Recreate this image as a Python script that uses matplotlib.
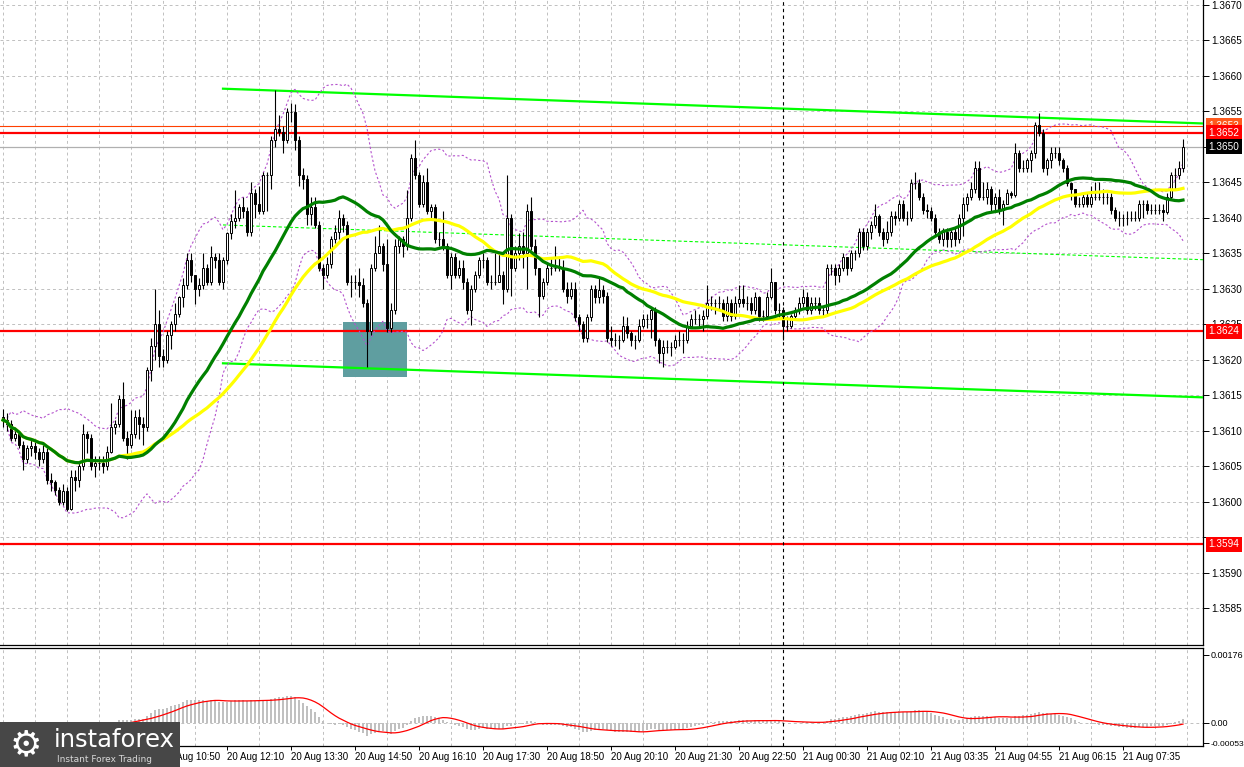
import numpy as np
import pandas as pd
import matplotlib
matplotlib.use("Agg")
import matplotlib.pyplot as plt
from matplotlib.patches import Rectangle

plt.rcParams["font.family"] = ["Liberation Sans", "DejaVu Sans"]

# --- data (pips above 1.3600, 5-minute bars) ---
first_open_pips = 12.0
close_pips = [
    11.5, 11, 9, 9.5, 8, 6, 7.5, 7.8, 7, 6,
    7, 3, 2.8, 1.7, 0, 1.5, -1, 3.5, 3, 5,
    9.5, 9, 5, 5.5, 5.5, 5, 7, 10.5, 10.9, 14.5,
    9, 8, 9.5, 12, 10.9, 10.5, 18.5, 22, 25, 20.5,
    20, 23.5, 25, 26.5, 28.8, 30.5, 34, 31.9, 30, 30.5,
    33, 31, 34.5, 34, 31, 34, 37.8, 39.5, 40, 41.5,
    41, 38, 43.5, 42, 41, 46, 46, 51, 52.5, 52.1,
    51, 54.9, 54.9, 51, 46, 45.5, 40.5, 41.5, 39, 33,
    32, 33.5, 37, 38, 40, 39, 31, 30.9, 30.9, 30.5,
    28, 24, 33, 35, 36, 33.5, 24.5, 27, 36, 37,
    36, 40, 48.5, 46, 42, 45, 41, 41.5, 37, 37,
    36, 32, 34.5, 32, 33, 31, 27, 30, 31.9, 34,
    34, 31, 31, 31, 32, 30, 40, 33, 35, 36,
    35, 41, 36, 33, 29, 30.9, 33, 33, 33, 33,
    30, 29, 30, 26, 25, 23, 26, 30, 28.9, 29.8,
    29, 23, 22.8, 22.8, 22.8, 24.8, 23.8, 22.8, 22.8, 24.8,
    25.8, 25.8, 27, 22.8, 20.9, 21.8, 21.8, 21.8, 22.8, 22.8,
    22.8, 24.8, 25.8, 25.8, 25.8, 26.1, 28, 28, 28, 28,
    26.1, 28, 26.1, 28, 28.5, 28, 28, 27, 28.9, 26.1,
    26.1, 28.9, 31, 27, 27, 24.8, 24.8, 26.1, 27, 28,
    28.9, 27, 28, 28, 27, 27, 32.9, 32.9, 31.9, 32.9,
    34.5, 32.9, 35, 35, 38, 36, 38, 39, 40.2, 38,
    37, 38, 40.2, 40, 42, 40, 40, 44.9, 44.9, 43,
    41.1, 41, 40, 38, 37, 38, 37, 38, 37, 40,
    42, 43, 44, 47, 43, 43, 44, 42, 43, 41.1,
    42, 43.5, 43.2, 49.1, 47, 47, 48.1, 49.1, 53.1, 52,
    47, 48.1, 49.1, 49.1, 48.1, 47, 44.9, 44, 42, 42,
    43, 42, 43, 43, 43, 43, 43, 41.1, 40, 40,
    40, 40, 40, 40, 42, 42, 41.1, 41.1, 41.1, 41.1,
    40.8, 43, 46, 46, 47, 50,
]
high_pips = [
    13, 12.5, 11.5, 10.5, 10, 8.5, 8, 9, 8.5, 7.5,
    8, 7.5, 4, 3, 2, 2.5, 2, 4.5, 4.5, 5.5,
    11, 10, 9.5, 6.5, 6.5, 6.5, 7.8, 13.9, 11.5, 15,
    16.8, 10, 12.9, 12.9, 13, 12, 19, 23, 30, 27,
    21.5, 24, 25.5, 28, 29, 31.5, 35, 35, 32, 31.5,
    35, 33.5, 36, 35, 35, 34.5, 38, 40.5, 43.9, 42,
    43, 41.5, 45, 44, 44.5, 46.5, 46.5, 51.5, 58, 54.5,
    53, 55.5, 56.2, 56, 51.5, 47, 46, 43, 43, 39.5,
    33.5, 34.5, 37.5, 39, 41.1, 40.5, 39.5, 32, 31.9, 33,
    31.5, 28.5, 33.5, 37.5, 39, 36.5, 37, 28, 37, 37.5,
    37.5, 43.9, 49, 51, 46.5, 46, 47, 42, 42, 38,
    41, 36.5, 35, 35, 34, 34, 31.5, 30.5, 32.5, 34.5,
    35, 34.5, 32, 35, 35, 32.5, 46, 40.5, 36, 37.9,
    38, 42, 43, 37, 33, 31.5, 33.5, 34.5, 36, 34.5,
    34, 31, 31, 31, 26.5, 25.5, 26.5, 30.5, 30.5, 31.7,
    30.5, 29.5, 24.8, 23.8, 23.5, 26.1, 26, 24, 23.5, 25.8,
    26.5, 26.5, 27.5, 27.5, 23, 22.8, 22.8, 22.5, 23.5, 24,
    23.8, 25.5, 26.5, 27, 26.5, 27, 30.5, 29, 28.5, 29,
    28.5, 29, 28.5, 29, 30.5, 30.5, 29, 28.9, 29.5, 29,
    27, 29.5, 33, 31, 28, 27.5, 26.1, 26.5, 27.5, 28.9,
    30, 29.5, 28.9, 28.9, 28.9, 27.5, 33.5, 33.5, 33.5, 33.5,
    35, 34.5, 35.5, 35.5, 38.5, 38.5, 38.5, 39.5, 42, 40.5,
    38.5, 39.5, 41, 41, 42.5, 42.5, 41, 45.5, 46.5, 45.5,
    43.5, 42, 41.5, 40.5, 38.5, 38.5, 38.5, 38.5, 38.5, 40.5,
    43, 43.5, 45, 48, 48, 45, 45, 44.5, 43.5, 44,
    42.5, 44, 43.8, 50.5, 49.5, 48.1, 48.5, 49.5, 53.5, 54.8,
    52.5, 48.5, 50, 50, 50, 48.5, 47.5, 45, 44, 43,
    43.5, 43.5, 44.5, 45, 45, 44, 43.5, 43.5, 41.5, 41,
    40.5, 41, 41, 41, 42.5, 42.5, 42.5, 42, 42, 42,
    42, 43.5, 46.5, 47, 48, 51.1,
]
low_pips = [
    10.5, 10, 8.5, 8.5, 7.5, 4.5, 5.5, 6.5, 6, 5,
    5.5, 2.5, 1.5, 1, -0.5, -0.5, -1.3, -1.2, 1.5, 2,
    4.5, 6.8, 4.5, 3.5, 4.5, 4, 4.5, 6.8, 9.5, 10.5,
    8.5, 6, 7.5, 9, 8.8, 8, 10, 17, 20, 19,
    19, 19.5, 21.5, 24, 26, 27.5, 30, 31, 27.9, 29,
    30, 30.5, 30.5, 33, 30.5, 30, 33.5, 37, 38.5, 39.5,
    40, 37.5, 37.5, 40, 40.5, 40.5, 41, 44, 50, 51.5,
    49.1, 50.5, 53.5, 49.5, 44.5, 44, 39, 39, 38.5, 32.5,
    30, 31.5, 33, 36.5, 37, 38, 30.5, 28.9, 30, 28.9,
    27.5, 19, 23.5, 32.5, 35, 32.5, 23.9, 23.9, 26.5, 35,
    34.5, 35.5, 39.5, 45.5, 41.5, 41.5, 40.5, 40, 36.5, 36,
    35.5, 31.5, 30, 31.5, 31.5, 30, 26.5, 24.9, 29.5, 31.5,
    33, 30.5, 30, 30.5, 31, 27.9, 29.5, 29, 32.5, 34,
    33, 30, 35.5, 32, 26, 28.5, 30.5, 32, 32.5, 32.5,
    29.5, 28, 28.5, 25.5, 24, 22.5, 22.5, 25.5, 28, 28,
    28, 22.5, 22, 22, 21.5, 22.5, 23, 22, 21.5, 22.5,
    24.5, 24.5, 23, 22, 19.5, 19, 21, 20.5, 21.5, 22,
    21, 22.3, 24.5, 25, 24.5, 24, 25.8, 27, 26.5, 27,
    25.5, 25.5, 25.5, 25.8, 27.5, 27.5, 27, 26.5, 26.5, 25.5,
    25.5, 26, 28.5, 26.5, 26, 22.8, 24, 24.5, 25.8, 26.5,
    27.5, 26.5, 26.5, 27, 26.5, 26, 26.5, 31.9, 30.5, 31,
    32.5, 32, 32.5, 34, 34.5, 35.5, 35.5, 37, 38.5, 37.5,
    36, 36.5, 37.5, 39, 39.5, 39.5, 39, 39.5, 44, 42.5,
    40.5, 40, 39.5, 37.5, 36.5, 36, 35.9, 35.9, 36, 36.5,
    37.5, 41, 42.5, 43.5, 42.5, 42.5, 42, 41, 41, 40.5,
    39, 42, 42.8, 43, 46.5, 46.5, 46.5, 46.5, 48.5, 51.5,
    46.5, 46, 47, 48.5, 47.5, 46.5, 44.5, 42.5, 41.5, 41.5,
    41.5, 41.5, 41.5, 42.5, 42.5, 42, 42, 40.5, 39.5, 38.8,
    38.8, 39, 39.5, 39.5, 39.5, 40, 40.5, 40.5, 40.5, 40.5,
    39.5, 40.5, 42.5, 44, 45.5, 46.5,
]

time_labels = ["20 Aug 10:50", "20 Aug 12:10", "20 Aug 13:30", "20 Aug 14:50",
               "20 Aug 16:10", "20 Aug 17:30", "20 Aug 18:50", "20 Aug 20:10",
               "20 Aug 21:30", "20 Aug 22:50", "21 Aug 00:30", "21 Aug 02:10",
               "21 Aug 03:35", "21 Aug 04:55", "21 Aug 06:15", "21 Aug 07:35"]
first_label_bar = 40
bars_per_label = 16

red_levels = [1.3652, 1.3624, 1.3594]
thin_level = 1.3653
bid_price = 1.3650

# trend lines: (start bar, end bar, start price, end price)
upper_trend = (55, 300, 1.36582, 1.36533)
lower_trend = (55, 300, 1.36195, 1.36147)
dashed_trend = (55, 300, 1.36390, 1.36341)
zone = (85, 101, 1.36175, 1.36253)   # bar from, bar to, price low, price high
separator_bar = 195

# --- prices ---
base = 1.3600
close = base + np.array(close_pips) / 10000
high = base + np.array(high_pips) / 10000
low = base + np.array(low_pips) / 10000
opn = np.concatenate([[base + first_open_pips / 10000], close[:-1]])
x = np.arange(len(close))

s = pd.Series(close)
ma_green = s.rolling(30, min_periods=1).mean()
ma_yellow = s.rolling(50, min_periods=1).mean()
bb_mid = s.rolling(20, min_periods=2).mean()
bb_std = s.rolling(20, min_periods=2).std(ddof=0)
bb_up = bb_mid + 2 * bb_std
bb_dn = bb_mid - 2 * bb_std
macd = s.ewm(span=12, adjust=False).mean() - s.ewm(span=26, adjust=False).mean()
signal = macd.rolling(9, min_periods=1).mean()

# --- figure ---
W, H = 1244, 767
fig = plt.figure(figsize=(W / 100, H / 100), dpi=100)
ax = fig.add_axes([0, 1 - 645 / H, 1203 / W, 645 / H])
axm = fig.add_axes([0, 1 - 746 / H, 1203 / W, 98 / H])

grid_kw = dict(color="#c0c0c0", lw=0.7, ls=(0, (3, 3)))

for a in (ax, axm):
    a.set_xlim(-0.75, 300)
    a.spines["left"].set_visible(False)
    for sp in ("right", "bottom", "top"):
        a.spines[sp].set_linewidth(0.9)
    a.yaxis.tick_right()
    a.tick_params(axis="y", direction="out", length=4, width=0.7,
                  labelsize=7.2, pad=2, colors="black")
    a.set_xticks(np.arange(0, 300, 8), minor=True)
    a.tick_params(axis="x", which="minor", length=0)
    a.grid(True, which="minor", axis="x", **grid_kw)
    a.set_axisbelow(True)

ax.spines["top"].set_visible(False)
ax.set_ylim(1.35798, 1.36707)
price_ticks = np.arange(1.3585, 1.36701, 0.0005)
ax.set_yticks(price_ticks)
# labels hidden behind the level boxes are left blank
covered = {"1.3650", "1.3595"}
ax.set_yticklabels(["" if f"{v:.4f}" in covered else f"{v:.4f}" for v in price_ticks])
ax.grid(True, which="major", axis="y", **grid_kw)
ax.set_xticks([])

# zone box
ax.add_patch(Rectangle((zone[0], zone[2]), zone[1] - zone[0], zone[3] - zone[2],
                       facecolor="#5f9ea0", edgecolor="none", zorder=1))

# horizontal levels
ax.axhline(bid_price, color="#b0b0b0", lw=0.9, zorder=2)
ax.axhline(thin_level, color="#ff4000", lw=0.8, zorder=2)
for lv in red_levels:
    ax.axhline(lv, color="#ff0000", lw=1.6, zorder=2)

# trend lines
for t in (upper_trend, lower_trend):
    ax.plot([t[0], t[1]], [t[2], t[3]], color="#00ff00", lw=1.6, zorder=3)
ax.plot([dashed_trend[0], dashed_trend[1]], [dashed_trend[2], dashed_trend[3]],
        color="#00ff00", lw=0.8, ls=(0, (3, 2)), zorder=3)

# bollinger bands
ax.plot(x, bb_up, color="#b452cd", lw=0.8, ls=(0, (2, 2)), zorder=3)
ax.plot(x, bb_dn, color="#b452cd", lw=0.8, ls=(0, (2, 2)), zorder=3)

# candles
up = close >= opn
ax.vlines(x, low, high, color="black", lw=0.8, zorder=4)
ax.bar(x, np.abs(close - opn), bottom=np.minimum(opn, close), width=0.7,
       color=np.where(up, "white", "black"), edgecolor="black", linewidth=0.7,
       zorder=5)

# moving averages
ax.plot(x, ma_yellow, color="#ffff00", lw=2.3, zorder=6)
ax.plot(x, ma_green, color="#008000", lw=2.3, zorder=7)

# separator
for a in (ax, axm):
    a.axvline(separator_bar, color="black", lw=0.8, ls=(0, (3, 3)), zorder=8)

# price boxes on the right axis
tr = ax.get_yaxis_transform()
box_items = [(thin_level, "#ff5a1e"), (red_levels[0], "#ff0000"),
             (red_levels[1], "#ff0000"), (red_levels[2], "#ff0000"),
             (bid_price, "black")]
for val, col in box_items:
    ax.text(1.0045, val, f"{val:.4f}", transform=tr, ha="left", va="center",
            fontsize=7.2, color="white", clip_on=False, zorder=10,
            bbox=dict(boxstyle="square,pad=0.25", fc=col, ec="none"))

# --- MACD panel ---
axm.set_ylim(-0.000596, 0.00194)
axm.set_yticks([0.00176, 0.0, -0.00053])
axm.set_yticklabels(["0.00176", "0.00", "-0.00053"])
axm.tick_params(axis="y", labelsize=6.5, pad=1.5)
axm.get_yticklabels()[2].set_fontsize(6.1)
axm.axhline(0, **grid_kw)
axm.bar(x, macd, width=0.5, color="#c0c0c0", zorder=3)
axm.plot(x, signal, color="#ff0000", lw=0.9, zorder=4)

tick_bars = [first_label_bar + bars_per_label * k for k in range(len(time_labels))]
axm.set_xticks(tick_bars)
axm.set_xticklabels(time_labels)
axm.tick_params(axis="x", which="major", direction="out", length=3, width=0.7,
                labelsize=7, pad=1.5)
for lab in axm.get_xticklabels():
    lab.set_ha("left")

# --- logo ---
fig.add_artist(Rectangle((0, 0), 180 / W, 45 / H, transform=fig.transFigure,
                         facecolor="#474747", edgecolor="none", zorder=20))
fig.text(26 / W, 22 / H, "\u2699", color="white", fontsize=26, family="DejaVu Sans",
         ha="center", va="center", zorder=21)
fig.text(54 / W, 27 / H, "instaforex", color="white", fontsize=17.5,
         family="DejaVu Sans", ha="left", va="center", zorder=21)
fig.text(57 / W, 8 / H, "Instant Forex Trading", color="#d8d8d8", fontsize=6.5,
         family="DejaVu Sans", ha="left", va="center", zorder=21)

fig.savefig("out.png", dpi=100)
